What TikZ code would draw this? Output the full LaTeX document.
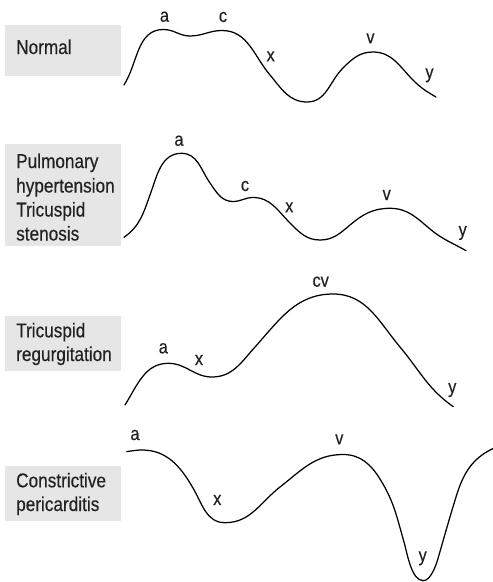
\documentclass[tikz,border=0pt]{standalone}
\usepackage{fontspec}
\setmainfont{Liberation Sans}[FakeStretch=0.86,FakeBold=0.35]
\definecolor{boxgray}{RGB}{230,230,231}
\definecolor{txt}{RGB}{35,33,33}
\begin{document}
\begin{tikzpicture}[x=1pt,y=1pt,
  panelbox/.style={fill=boxgray,draw=none},
  boxtext/.style={anchor=base west,inner sep=0pt,text=txt,font=\fontsize{20}{24}\selectfont,align=left},
  wavelabel/.style={inner sep=0pt,text=txt,font=\fontsize{19}{22}\selectfont},
  wave/.style={line width=1.25pt,black,line cap=round,line join=round}]
\useasboundingbox (0,0) rectangle (493,-582);
% boxes
\fill[panelbox] (5,-25) rectangle (121,-76);
\fill[panelbox] (5,-144) rectangle (121,-246);
\fill[panelbox] (5,-316) rectangle (121,-371);
\fill[panelbox] (5,-466) rectangle (121,-521);
\node[boxtext] (t1) at (16,-54) {Normal};
\node[boxtext] (t2a) at (16,-168) {Pulmonary};
\node[boxtext] (t2b) at (16,-192.5) {hypertension};
\node[boxtext] (t2c) at (16,-216.5) {Tricuspid};
\node[boxtext] (t2d) at (16,-240.5) {stenosis};
\node[boxtext] (t3a) at (16,-337.3) {Tricuspid};
\node[boxtext] (t3b) at (16,-361) {regurgitation};
\node[boxtext] (t4a) at (16,-487.3) {Constrictive};
\node[boxtext] (t4b) at (16,-511) {pericarditis};
% panel 1
\draw[wave] (124,-85) to[out=58,in=180] (163.5,-29.5) to[out=0,in=180] (190,-36)
  to[out=0,in=180] (222,-30.5) to[out=0,in=130] (270,-75) to[out=-50,in=180] (307,-102)
  to[out=0,in=-135] (343,-68) to[out=45,in=180] (373,-52) to[out=0,in=135] (413,-80)
  to[out=-45,in=150] (436,-97);
\node[wavelabel] (p1a) at (164.5,-16.7) {a};
\node[wavelabel] (p1c) at (223,-17) {c};
\node[wavelabel] (p1x) at (270.7,-56.3) {x};
\node[wavelabel] (p1v) at (370.5,-38.3) {v};
\node[wavelabel] (p1y) at (429.5,-75.3) {y};
% panel 2
\draw[wave] (124,-237.3) to[out=35,in=-110] (150,-195) to[out=70,in=180] (181.5,-153.3)
  to[out=0,in=125] (210,-183) to[out=-55,in=180] (233,-201.5) to[out=0,in=180] (253,-197.5)
  to[out=0,in=135] (290,-223) to[out=-45,in=180] (320,-240) to[out=0,in=-140] (350,-225)
  to[out=40,in=180] (390,-208.3) to[out=0,in=140] (430,-229) to[out=-40,in=150] (466,-250.7);
\node[wavelabel] (p2a) at (179,-140.7) {a};
\node[wavelabel] (p2c) at (245,-186) {c};
\node[wavelabel] (p2x) at (289.3,-207.3) {x};
\node[wavelabel] (p2v) at (386.7,-195) {v};
\node[wavelabel] (p2y) at (462.7,-233) {y};
% panel 3
\draw[wave] (125,-405) to[out=58,in=180] (168.3,-363.3) to[out=0,in=180] (212,-377)
  to[out=0,in=-132] (255,-347) to[out=48,in=180] (333,-294) to[out=0,in=130] (400,-347)
  to[out=-50,in=145] (453.3,-406.7);
\node[wavelabel] (p3a) at (163.3,-348.3) {a};
\node[wavelabel] (p3x) at (199,-360) {x};
\node[wavelabel] (p3cv) at (320.7,-281.7) {cv};
\node[wavelabel] (p3y) at (452.3,-390) {y};
% panel 4
\draw[wave] (126.7,-451.5) to[out=5,in=180] (142,-450) to[out=0,in=120] (193,-488)
  to[out=-60,in=180] (225,-522.7) to[out=0,in=-142] (280,-487) to[out=38,in=180] (343,-454.5)
  to[out=0,in=122] (380,-479) to[out=-58,in=106] (404,-542)
  to[out=-74,in=180,looseness=0.7] (423.3,-580.7) to[out=0,in=-106,looseness=0.7] (438,-558.5)
  to[out=74,in=-107] (456,-497) to[out=73,in=-155] (493.5,-448.3);
\node[wavelabel] (p4a) at (135,-435) {a};
\node[wavelabel] (p4x) at (217.3,-500) {x};
\node[wavelabel] (p4v) at (339.3,-439.3) {v};
\node[wavelabel] (p4y) at (422.7,-558.3) {y};
\end{tikzpicture}
\end{document}
